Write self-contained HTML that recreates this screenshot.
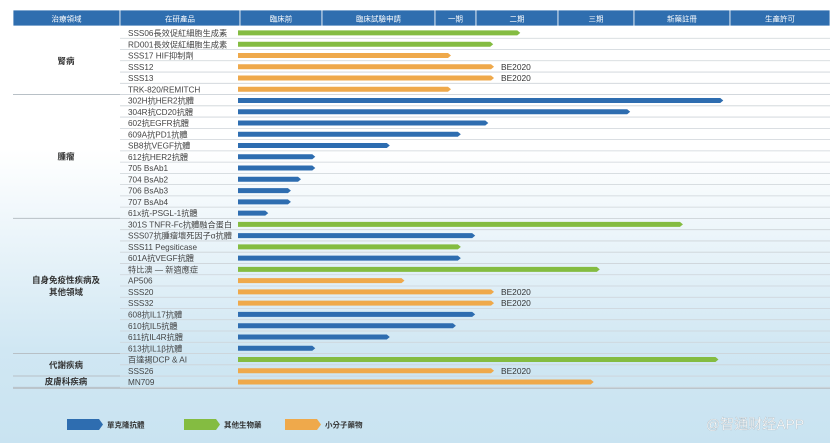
<!DOCTYPE html>
<html><head><meta charset="utf-8">
<style>
html,body{margin:0;padding:0;}
body{width:830px;height:443px;overflow:hidden;font-family:"Liberation Sans","Noto Sans CJK TC",sans-serif;
background:linear-gradient(180deg,#ffffff 0px,#ffffff 150px,#e8f3f9 250px,#d0e7f3 350px,#c9e3f1 443px);}
svg{position:absolute;left:0;top:0;}
</style></head>
<body>
<svg id="chart" width="830" height="443" xmlns="http://www.w3.org/2000/svg"></svg>
<script>
const headers = ["治療領域","在研產品","臨床前","臨床試驗申請","一期","二期","三期","新藥註冊","生產許可"];
const products = ["SSS06長效促紅細胞生成素","RD001長效促紅細胞生成素","SSS17 HIF抑制劑","SSS12","SSS13","TRK-820/REMITCH",
"302H抗HER2抗體","304R抗CD20抗體","602抗EGFR抗體","609A抗PD1抗體","SB8抗VEGF抗體","612抗HER2抗體","705 BsAb1","704 BsAb2","706 BsAb3","707 BsAb4","61x抗-PSGL-1抗體",
"301S TNFR-Fc抗體融合蛋白","SSS07抗腫瘤壞死因子α抗體","SSS11 Pegsiticase","601A抗VEGF抗體","特比澳 — 新適應症","AP506","SSS20","SSS32","608抗IL17抗體","610抗IL5抗體","611抗IL4R抗體","613抗IL1β抗體",
"百達揚DCP & AI","SSS26","MN709"];
const types = ["g","g","o","o","o","o",
"b","b","b","b","b","b","b","b","b","b","b",
"g","b","g","b","g","o","o","o","b","b","b","b",
"g","o","o"];
const progress = [3.54,3.21,2.39,3.22,3.22,2.39,
5.93,4.95,3.15,2.63,1.60,0.92,0.92,0.75,0.63,0.63,0.36,
5.51,2.98,2.63,2.63,4.55,1.73,3.22,3.22,2.98,2.51,1.60,0.92,
5.88,3.22,4.47];
const notes = ["","","","BE2020","BE2020","","","","","","","","","","","","","","","","","","","BE2020","BE2020","","","","","","BE2020",""];
const categories = ["腎病","腫瘤","自身免疫性疾病及\n其他領域","代謝疾病","皮膚科疾病"];
const categoryCounts = [6,11,12,2,1];
const legendLabels = ["單克隆抗體","其他生物藥","小分子藥物"];

const colors={b:"#2e6db0",g:"#84bc41",o:"#efa94b"};
const colX=[13,120,240,322,435,476,558,634,730,830];
const stageX=[238,322,435,476,558,634,730,830];
function xScale(v){const i=Math.min(Math.floor(v),6);return stageX[i]+(v-i)*(stageX[i+1]-stageX[i]);}
const rowTop=27,rowH=11.26;
function yScale(i){return rowTop+i*rowH;}
const NS="http://www.w3.org/2000/svg";
const svg=document.getElementById("chart");
function mk(t,a,txt){const e=document.createElementNS(NS,t);for(const k in a)e.setAttribute(k,a[k]);if(txt!=null)e.textContent=txt;svg.appendChild(e);return e;}

for(let i=0;i<headers.length;i++){
  const r=mk("rect",{x:colX[i],y:10,width:colX[i+1]-colX[i],height:16,fill:"#2f6eaf",stroke:"#ffffff","stroke-width":0.8});
  
  
  const t=mk("text",{x:(colX[i]+colX[i+1])/2,y:21.5,"text-anchor":"middle","font-size":7.5,fill:"#ffffff"},headers[i]);
  
  
}
for(let i=0;i<products.length;i++){
  const y=yScale(i);
  const ln=mk("line",{x1:120,x2:830,y1:y+rowH,y2:y+rowH,stroke:"#cdd3d8","stroke-width":0.8});
  
  
  const t=mk("text",{x:128,y:y+9,"font-size":8.2,fill:"#444"},products[i]);
  
  
  const x0=238,x1=xScale(progress[i]),cy=y+rowH/2+0.3,h=5;
  const p=mk("path",{d:`M${x0},${cy-h/2} L${x1-3},${cy-h/2} L${x1},${cy} L${x1-3},${cy+h/2} L${x0},${cy+h/2} Z`,fill:colors[types[i]]});
  
  
  if(notes[i]){
    const n=mk("text",{x:501,y:y+9,"font-size":8.4,fill:"#333"},notes[i]);
    
    
  }
}
let start=0;
for(let c=0;c<categories.length;c++){
  const y0=yScale(start),y1=yScale(start+categoryCounts[c]);
  const ln=mk("line",{x1:13,x2:120,y1:y1,y2:y1,stroke:"#b8c0c6","stroke-width":1});
  
  
  const lines=categories[c].split("\n");
  const mid=(y0+y1)/2;
  lines.forEach((l,k)=>{
    const t=mk("text",{x:66,y:mid+3+(k-(lines.length-1)/2)*12,"text-anchor":"middle","font-size":8.5,"font-weight":"bold",fill:"#333"},l);
    
    
  });
  start+=categoryCounts[c];
}
const bl=mk("line",{x1:13,x2:830,y1:yScale(products.length)+1,y2:yScale(products.length)+1,stroke:"#b8c0c6","stroke-width":1});


const legX=[67,184,285],legC=["b","g","o"];
for(let i=0;i<3;i++){
  const x=legX[i],y=419,w=36,h=11;
  const p=mk("path",{d:`M${x},${y} L${x+w-4},${y} L${x+w},${y+h/2} L${x+w-4},${y+h} L${x},${y+h} Z`,fill:colors[legC[i]]});
  
  
  const t=mk("text",{x:x+40,y:y+8.5,"font-size":7.5,"font-weight":"bold",fill:"#333"},legendLabels[i]);
  
  
}
const wm=mk("text",{x:706,y:429,"font-size":14,fill:"#ffffff",stroke:"#aab4bb","stroke-width":0.3},"@智通财经APP");


</script>
</body></html>
